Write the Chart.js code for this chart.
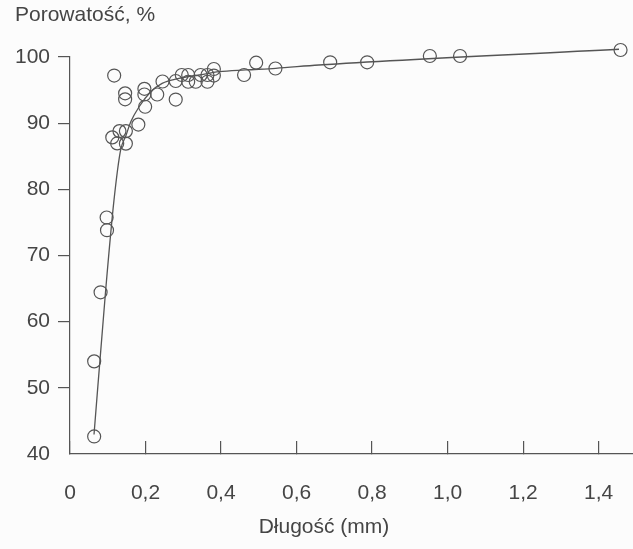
<!DOCTYPE html>
<html>
<head>
<meta charset="utf-8">
<script src="https://cdn.jsdelivr.net/npm/chart.js@4.4.0/dist/chart.umd.min.js"></script>
<style>
html,body{margin:0;padding:0;background:#fcfcfc;}
#wrap{width:633px;height:549px;}
</style>
</head>
<body>
<div id="wrap"><canvas id="c" width="633" height="549"></canvas></div>
<script>
// Measured points (Długość mm, Porowatość %)
const pointX = [0.064,0.064,0.081,0.098,0.097,0.112,0.131,0.148,0.125,0.148,0.181,0.199,0.117,0.146,0.146,0.197,0.197,0.231,0.245,0.280,0.280,0.296,0.313,0.313,0.333,0.346,0.364,0.364,0.381,0.381,0.461,0.493,0.544,0.689,0.787,0.953,1.033,1.458];
const pointY = [42.65,54.0,64.44,73.82,75.74,87.85,88.8,88.8,86.94,86.91,89.79,92.48,97.2,94.51,93.6,95.19,94.33,94.33,96.3,93.57,96.37,97.28,97.28,96.26,96.26,97.28,96.26,97.28,98.19,97.2,97.28,99.14,98.26,99.2,99.2,100.15,100.15,101.06];
// Fitted curve
const curveX = [0.0636,0.094,0.1165,0.134,0.148,0.161,0.183,0.214,0.244,0.289,0.342,0.395,0.465,0.545,0.659,1.454];
const curveY = [42.95,64.44,78.36,85.93,88.1,90.21,92.48,94.75,96.02,96.78,97.28,97.78,98.04,98.29,98.79,101.17];
const xTickValues = [0,0.2,0.4,0.6,0.8,1.0,1.2,1.4];
const xTickLabels = ['0','0,2','0,4','0,6','0,8','1,0','1,2','1,4'];
const yTickValues = [40,50,60,70,80,90,100];
const yTickLabels = ['40','50','60','70','80','90','100'];
const titleText = 'Porowatość, %';
const xAxisText = 'Długość (mm)';

const INK = '#555555';
const TEXT = '#454545';
const FAMILY = "'Liberation Sans', Arial, sans-serif";
const FONT = {family: FAMILY, size: 21, weight: 'normal'};

const points = pointX.map((x, i) => ({x: x, y: pointY[i]}));
const curve = curveX.map((x, i) => ({x: x, y: curveY[i]}));

new Chart(document.getElementById('c'), {
  type: 'scatter',
  data: {
    datasets: [
      {
        data: curve,
        showLine: true,
        borderColor: INK,
        borderWidth: 1.3,
        pointRadius: 0,
        fill: false,
        cubicInterpolationMode: 'monotone',
        clip: false,
        order: 2
      },
      {
        data: points,
        pointStyle: 'circle',
        pointRadius: 6.5,
        pointBorderWidth: 1.2,
        pointBorderColor: INK,
        pointBackgroundColor: 'rgba(0,0,0,0)',
        showLine: false,
        clip: false,
        order: 1
      }
    ]
  },
  options: {
    responsive: false,
    devicePixelRatio: 1,
    animation: false,
    events: [],
    layout: {autoPadding: false, padding: {left: 15, right: 0, top: 0, bottom: 0}},
    plugins: {
      legend: {display: false},
      tooltip: {enabled: false},
      title: {
        display: true,
        text: titleText,
        align: 'start',
        color: TEXT,
        font: FONT,
        padding: {top: 3, bottom: 28.8}
      },
      subtitle: {
        display: true,
        text: xAxisText,
        position: 'bottom',
        align: 'center',
        color: TEXT,
        font: FONT,
        padding: {top: -30.6, bottom: 9.4}
      }
    },
    scales: {
      x: {
        type: 'linear',
        min: 0,
        max: 1.491,
        afterBuildTicks: axis => { axis.ticks = xTickValues.map(v => ({value: v})); },
        afterFit: axis => { axis.paddingLeft = 0; axis.paddingRight = 0; },
        ticks: {
          callback: (v, i) => xTickLabels[i],
          color: TEXT,
          font: {family: FAMILY, size: 21, weight: 'normal', lineHeight: '104px'},
          padding: 0,
          maxRotation: 0,
          autoSkip: false,
          includeBounds: false
        },
        grid: {
          display: true,
          drawOnChartArea: false,
          drawTicks: true,
          tickLength: -13,
          color: INK,
          lineWidth: 1.2
        },
        border: {display: true, color: INK, width: 1.2}
      },
      y: {
        type: 'linear',
        min: 40,
        max: 100,
        afterBuildTicks: axis => { axis.ticks = yTickValues.map(v => ({value: v})); },
        afterFit: axis => { axis.width = 55; },
        ticks: {
          callback: (v, i) => yTickLabels[i],
          color: TEXT,
          font: FONT,
          padding: 8,
          autoSkip: false,
          includeBounds: false
        },
        grid: {
          display: true,
          drawOnChartArea: false,
          drawTicks: true,
          tickLength: 12,
          color: ctx => (ctx.tick && ctx.tick.value === 40) ? 'rgba(0,0,0,0)' : INK,
          lineWidth: 1.2
        },
        border: {display: true, color: INK, width: 1.2}
      }
    }
  }
});
</script>
</body>
</html>
